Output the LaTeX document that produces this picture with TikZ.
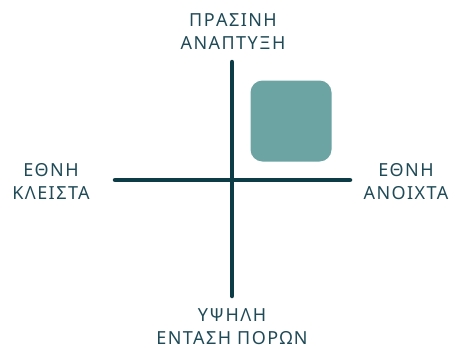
\documentclass[tikz,border=0pt]{standalone}
\usepackage{fontspec}
\setmainfont{Noto Sans}[LetterSpace=8]
\definecolor{axis}{HTML}{0E3C46}
\definecolor{lbl}{HTML}{1F4A57}
\definecolor{boxc}{HTML}{6CA3A3}
\begin{document}
\begin{tikzpicture}[x=1pt,y=-1pt,
  axisline/.style={draw=axis,line width=4.5pt,line cap=round},
  lab/.style={text=lbl,align=center,inner sep=0pt,font=\fontsize{18}{23}\selectfont},
  quad/.style={fill=boxc,rounded corners=12pt}]
\useasboundingbox (0,0) rectangle (458,349);
\coordinate (vt) at (232,62);
\coordinate (vb) at (232,296);
\coordinate (hl) at (115,180);
\coordinate (hr) at (350,180);
\draw[axisline] (vt) -- (vb);
\draw[axisline] (hl) -- (hr);
\node[quad,minimum width=81pt,minimum height=81pt] (q) at (291,121) {};
\node[lab] (top) at (233,32) {ΠΡΑΣΙΝΗ\\ΑΝΑΠΤΥΞΗ};
\node[lab] (left) at (51,181.5) {ΕΘΝΗ\\ΚΛΕΙΣΤΑ};
\node[lab] (right) at (406,181.5) {ΕΘΝΗ\\ΑΝΟΙΧΤΑ};
\node[lab] (bottom) at (232,326.5) {ΥΨΗΛΗ\\ΕΝΤΑΣΗ ΠΟΡΩΝ};
\end{tikzpicture}
\end{document}
